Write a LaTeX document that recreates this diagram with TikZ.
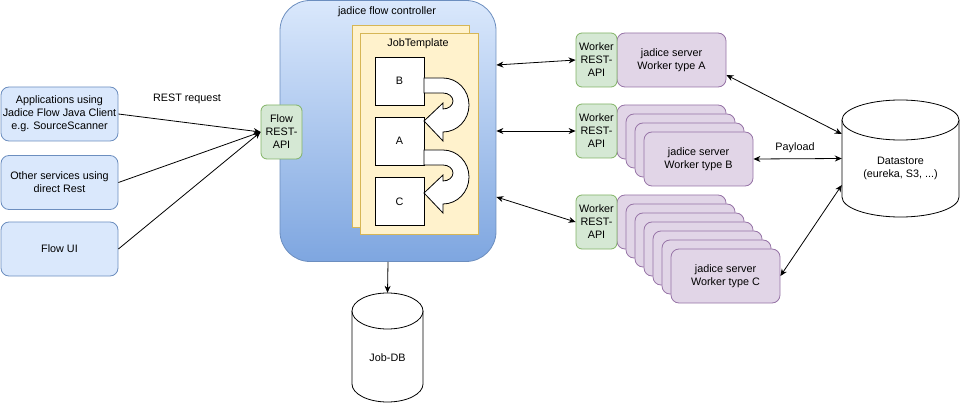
\documentclass[tikz,border=0pt]{standalone}
\usepackage{fontspec}
\setmainfont{Liberation Sans}
\usetikzlibrary{arrows.meta,calc}
\definecolor{bluefill}{HTML}{DAE8FC}
\definecolor{blueline}{HTML}{6C8EBF}
\definecolor{bluedark}{HTML}{7EA6E0}
\definecolor{greenfill}{HTML}{D5E8D4}
\definecolor{greenline}{HTML}{82B366}
\definecolor{purplefill}{HTML}{E1D5E7}
\definecolor{purpleline}{HTML}{9673A6}
\definecolor{yellowfill}{HTML}{FFF2CC}
\definecolor{yellowline}{HTML}{D6B656}
\begin{document}
\begin{tikzpicture}[x=1pt,y=-1pt, font=\fontsize{10.8}{13}\selectfont,
 box/.style={draw, rounded corners=8pt, align=center, inner sep=0pt, line width=0.8pt},
 client/.style={box, draw=blueline, fill=bluefill, minimum width=117pt, minimum height=54pt},
 api/.style={box, draw=greenline, fill=greenfill, rounded corners=6pt, minimum width=41pt, minimum height=54pt},
 server/.style={box, draw=purpleline, fill=purplefill, minimum width=109pt, minimum height=54pt},
 tmpl/.style={draw=yellowline, fill=yellowfill, line width=0.8pt, inner sep=0pt},
 stepbox/.style={draw, fill=white, minimum width=49pt, minimum height=48pt, inner sep=0pt, line width=0.8pt},
 uturn/.style={draw, fill=white, line width=0.8pt, line join=miter},
 arr/.style={-{Stealth[length=7pt,width=6pt]}, line width=0.8pt},
 arrb/.style={{Stealth[length=7pt,width=6pt]}-{Stealth[length=7pt,width=6pt]}, line width=0.8pt},
 db/.style={draw, fill=white, line width=0.8pt},
 lbl/.style={inner sep=0pt}
]
\useasboundingbox (0,0) rectangle (960,403);

% controller
\node[draw=blueline, top color=bluefill, bottom color=bluedark, rounded corners=30pt,
      minimum width=216pt, minimum height=261pt, line width=0.8pt, inner sep=0pt] (ctrl) at (388,131) {};
\node[lbl] (ctitle) at (387,12) {jadice flow controller};

% job template
\node[tmpl, minimum width=117pt, minimum height=202pt] (tplback) at (410.5,126) {};
\node[tmpl, minimum width=118pt, minimum height=201pt] (tpl) at (419,133.5) {};
\node[lbl] (tpltitle) at (418,44) {JobTemplate};

\node[stepbox] (B) at (399.5,81) {B};
\node[stepbox] (A) at (399.5,141) {A};
\node[stepbox] (C) at (399.5,201.5) {C};

\foreach \yo in {78,150} {
  \draw[uturn] (424,\yo) -- (443,\yo)
     arc[start angle=-90,end angle=90,x radius=26,y radius=27]
     -- (443,\yo+63) -- (424,\yo+43) -- (443,\yo+25) -- (443,\yo+31)
     arc[start angle=90,end angle=-90,x radius=10,y radius=8]
     -- (424,\yo+15) -- cycle;
}

% flow api
\node[api] (flowapi) at (281.5,132) {Flow\\REST-\\API};

% clients
\node[client] (app) at (59.5,114) {Applications using\\Jadice Flow Java Client\\e.g. SourceScanner};
\node[client] (other) at (59.5,182.5) {Other services using\\direct Rest};
\node[client] (ui) at (59.5,249) {Flow UI};
\node[lbl] (restlbl) at (187,99) {REST request};

\draw[arr] (app.east) -- (flowapi.west);
\draw[arr] (other.east) -- (flowapi.west);
\draw[arr] (ui.east) -- (flowapi.west);

% workers
\node[server] (srvA) at (671.5,60) {jadice server\\Worker type A};
\node[api] (wapiA) at (596.5,60) {Worker\\REST-\\API};

\foreach \i in {0,1,2} {
  \node[server] (srvB\i) at (671.5+9*\i,132+9*\i) {};
}
\node[server] (srvB3) at (698.5,159) {jadice server\\Worker type B};
\node[api] (wapiB) at (596.5,131) {Worker\\REST-\\API};

\foreach \i in {0,1,2,3,4,5} {
  \node[server] (srvC\i) at (671.5+9*\i,222+9*\i) {};
}
\node[server] (srvC6) at (725.5,276) {jadice server\\Worker type C};
\node[api] (wapiC) at (596.5,222) {Worker\\REST-\\API};

\draw[arrb] (ctrl.east |- 0,65) -- (wapiA.west);
\draw[arrb] (ctrl.east |- 0,131) -- (wapiB.west);
\draw[arrb] (ctrl.east |- 0,197) -- (wapiC.west);

% datastore
\node[minimum width=117pt, minimum height=117pt, inner sep=0pt] (ds) at (900.5,158.5) {};
\draw[db] (842,120) -- (842,197) arc[start angle=180,end angle=0,x radius=58.5,y radius=20] -- (959,120);
\draw[db] (900.5,120) ellipse[x radius=58.5,y radius=20];
\node[lbl, align=center] (dslbl) at (900.5,168) {Datastore\\(eureka, S3, ...)};

\draw[arrb] ([yshift=-15pt]srvA.east) -- ([yshift=24.5pt]ds.west);
\draw[arrb] (srvB3.east) -- (ds.west);
\node[lbl] (payload) at (795,148) {Payload};
\draw[arrb] ([yshift=-26.5pt]ds.west) -- (srvC6.east);

% job db
\node[minimum width=71pt, minimum height=109pt, inner sep=0pt] (jobdb) at (387.5,347.5) {};
\draw[db] (352,311) -- (352,384) arc[start angle=180,end angle=0,x radius=35.5,y radius=18] -- (423,311);
\draw[db] (387.5,311) ellipse[x radius=35.5,y radius=18];
\node[lbl] (jobdblbl) at (387.5,358) {Job-DB};

\draw[arr] (ctrl.south) -- (jobdb.north);
\end{tikzpicture}
\end{document}
